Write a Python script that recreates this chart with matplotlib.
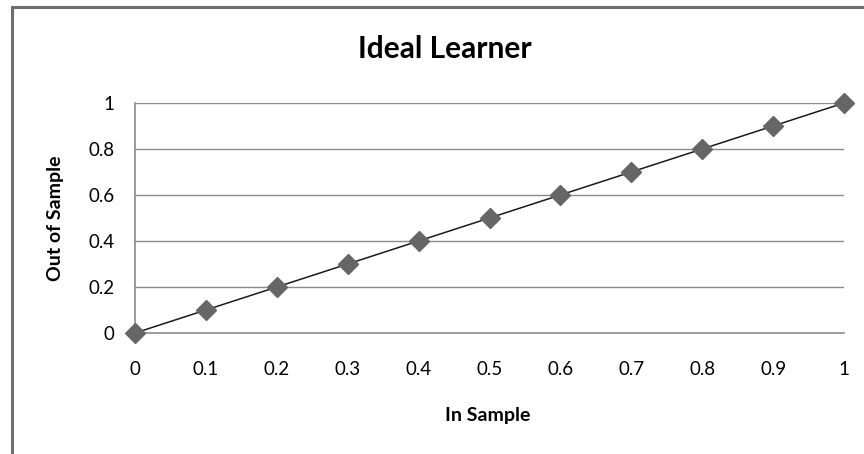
import matplotlib
matplotlib.use("Agg")
import matplotlib.pyplot as plt
from matplotlib.patches import Rectangle

# Series data
in_sample = [0.0, 0.1, 0.2, 0.3, 0.4, 0.5, 0.6, 0.7, 0.8, 0.9, 1.0]
out_of_sample = [0.0, 0.1, 0.2, 0.3, 0.4, 0.5, 0.6, 0.7, 0.8, 0.9, 1.0]

x_ticks = [0.0, 0.1, 0.2, 0.3, 0.4, 0.5, 0.6, 0.7, 0.8, 0.9, 1.0]
x_tick_labels = ["0", "0.1", "0.2", "0.3", "0.4", "0.5", "0.6", "0.7", "0.8", "0.9", "1"]
y_ticks = [0.0, 0.2, 0.4, 0.6, 0.8, 1.0]
y_tick_labels = ["0", "0.2", "0.4", "0.6", "0.8", "1"]

plt.rcParams["font.family"] = ["Lato", "DejaVu Sans"]

W, H = 864, 454
fig = plt.figure(figsize=(W / 100, H / 100), dpi=100)

# Chart frame
fig.patches.append(Rectangle((12 / W, -0.05), 1.2, 1 - 7 / H + 0.05,
                             transform=fig.transFigure, fill=False,
                             edgecolor="#6e6e6e", linewidth=2.2))

ax = fig.add_axes([135 / W, 1 - 333 / H, (844 - 135) / W, (333 - 103) / H])
ax.set_xlim(0, 1)
ax.set_ylim(0, 1)

for y in y_ticks[1:]:
    ax.axhline(y, color="#8a8a8a", linewidth=1.0, zorder=1)

ax.plot(in_sample, out_of_sample, color="#1a1a1a", linewidth=1.1,
        marker="D", markersize=10, markerfacecolor="#666666",
        markeredgecolor="#666666", clip_on=False, zorder=3)

for side in ("top", "right"):
    ax.spines[side].set_visible(False)
for side in ("left", "bottom"):
    ax.spines[side].set_color("#8a8a8a")
    ax.spines[side].set_linewidth(1.2)

ax.set_xticks(x_ticks)
ax.set_xticklabels(x_tick_labels, fontsize=13.5)
ax.set_yticks(y_ticks)
ax.set_yticklabels(y_tick_labels, fontsize=13.5)
ax.tick_params(axis="both", length=0)
ax.tick_params(axis="x", pad=20)
ax.tick_params(axis="y", pad=15)

# Titles placed in pixel coordinates of the figure
fig.text(444.5 / W, 1 - 58 / H, "Ideal Learner", fontsize=21.5, fontweight="bold",
         ha="center", va="baseline")
fig.text(488 / W, 1 - 421 / H, "In Sample", fontsize=14, fontweight="bold",
         ha="center", va="baseline")
fig.text(56 / W, 1 - 218 / H, "Out of Sample", fontsize=14, fontweight="bold",
         ha="center", va="center", rotation=90)

fig.savefig("out.png", dpi=100)
